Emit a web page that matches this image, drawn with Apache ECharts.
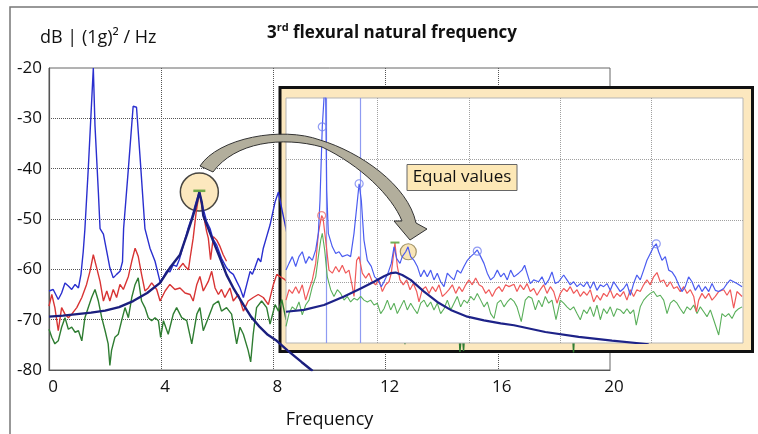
<!DOCTYPE html>
<html>
<head>
<meta charset="utf-8">
<script src="https://cdn.jsdelivr.net/npm/echarts@6/dist/echarts.min.js"></script>
<style>
html, body { margin: 0; padding: 0; background: #fff; }
#chart { width: 758px; height: 434px; }
</style>
</head>
<body>
<div id="chart"></div>
<script>
// ---- main plot: frequency / dB ----
var mainBlue = [[0,-64.3],[0.15,-64],[0.33,-66],[0.45,-64.7],[0.57,-62.7],[0.69,-63.3],[0.81,-64],[0.93,-63],[1.05,-63.7],[1.14,-61],[1.22,-56.5],[1.28,-52],[1.4,-40],[1.58,-20],[1.64,-31.5],[1.76,-44.7],[1.82,-51.9],[1.94,-53],[2.06,-56.5],[2.17,-59.7],[2.29,-61.7],[2.41,-61],[2.53,-60.4],[2.62,-58.5],[2.66,-51.9],[2.83,-40],[3.0,-27.6],[3.12,-27.8],[3.25,-38],[3.42,-51.9],[3.6,-55.8],[3.78,-58.4],[3.96,-62.5],[4.08,-61.5],[4.2,-60.3],[4.31,-60.5],[4.43,-59.1],[4.55,-59.4],[4.65,-58],[4.8,-55],[4.95,-52],[5.1,-49.5],[5.25,-46.5],[5.36,-44.65],[5.5,-48],[5.62,-50.5],[5.74,-51.9],[5.85,-54],[5.98,-55.2],[6.15,-57.8],[6.33,-59.7],[6.45,-60.5],[6.57,-61],[6.7,-62.5],[6.81,-63.7],[6.93,-65.6],[7.05,-63],[7.17,-60.4],[7.25,-61],[7.34,-59.7],[7.46,-57.8],[7.55,-58.5],[7.64,-55.8],[7.76,-53.5],[7.88,-51.2],[8.06,-46.6],[8.18,-44.65],[8.3,-48],[8.45,-52],[8.6,-56]];
var mainRed = [[0,-67.3],[0.1,-65],[0.21,-67.6],[0.33,-72.2],[0.45,-67.6],[0.57,-68.9],[0.69,-69.6],[0.81,-68.9],[0.99,-67.6],[1.17,-65.6],[1.34,-63],[1.46,-60.4],[1.58,-57.1],[1.7,-59.7],[1.82,-62.4],[1.94,-66.3],[2.06,-64.3],[2.17,-66.3],[2.29,-64],[2.41,-65.6],[2.53,-63],[2.65,-64],[2.83,-61.4],[2.95,-58.4],[3.07,-55.8],[3.18,-57.4],[3.3,-61],[3.42,-64.3],[3.54,-63.7],[3.66,-62.7],[3.84,-64],[3.96,-66.3],[4.14,-64.3],[4.31,-63],[4.49,-64],[4.67,-63.7],[4.85,-64.7],[5.03,-65],[5.14,-66.3],[5.27,-63],[5.38,-61.4],[5.5,-64.3],[5.68,-62.4],[5.8,-60.4],[5.92,-63.7],[6.04,-65],[6.15,-64],[6.27,-65.6],[6.45,-63.7],[6.57,-66.3],[6.75,-65],[6.93,-68.3],[7.1,-66.3],[7.28,-65.6],[7.46,-65],[7.64,-65.6],[7.82,-67],[8.0,-63],[8.12,-61],[8.25,-61.5],[8.4,-62],[8.6,-63]];
var mainRedPeak = [[4.6,-60],[4.67,-59.7],[4.78,-58.8],[4.85,-59.4],[4.97,-60.1],[5.03,-57.8],[5.14,-53.8],[5.25,-48.5],[5.36,-44.65],[5.5,-49],[5.62,-52.5],[5.68,-53.8],[5.76,-58.1],[5.86,-53.5],[5.98,-54.2],[6.1,-55.5],[6.21,-57.1],[6.33,-58.4]];
var mainGreen = [[0,-71.9],[0.1,-73.5],[0.21,-74.8],[0.33,-74.2],[0.45,-71.5],[0.57,-69.6],[0.69,-71.9],[0.81,-71.5],[0.93,-72.5],[1.05,-72.2],[1.17,-74.2],[1.28,-69.6],[1.4,-67.6],[1.52,-65.6],[1.64,-64],[1.76,-66.3],[1.88,-69.6],[2.0,-72.2],[2.11,-74.8],[2.17,-79.1],[2.23,-76.1],[2.35,-73.5],[2.47,-72.9],[2.59,-70.2],[2.71,-67.6],[2.83,-69.6],[2.95,-65.6],[3.07,-63],[3.18,-61.7],[3.3,-66.3],[3.42,-67.6],[3.54,-69.6],[3.66,-70.2],[3.78,-69.6],[3.9,-70.2],[3.98,-73.5],[4.08,-70.2],[4.25,-72.9],[4.43,-68.9],[4.55,-67.6],[4.73,-69.6],[4.91,-70.2],[5.09,-74.8],[5.27,-68.9],[5.38,-67.6],[5.5,-72.2],[5.68,-69.6],[5.86,-67],[6.04,-66.3],[6.15,-68.3],[6.33,-67.6],[6.51,-68.9],[6.69,-74.8],[6.81,-71.5],[6.93,-72.9],[7.1,-76.1],[7.19,-78.4],[7.28,-72.9],[7.4,-67.6],[7.58,-66.3],[7.76,-67.6],[7.88,-70.9],[8.06,-67],[8.18,-68.3],[8.3,-66],[8.45,-70],[9.5,-69],[10.5,-70],[11.5,-69],[12.64,-70],[12.69,-74.9],[12.74,-70],[13.8,-69],[14.6,-70],[14.65,-76.4],[14.72,-72],[14.78,-76.2],[14.85,-70],[16.5,-69],[18.64,-70],[18.7,-76.5],[18.76,-70],[20,-69]];
var mainFit = [[0,-69.4],[0.5,-69.2],[1,-68.9],[1.5,-68.6],[2,-68.2],[2.5,-67.5],[3,-66.3],[3.5,-64.7],[3.96,-62.7],[4.31,-59.7],[4.67,-57.1],[4.91,-53.2],[5.14,-49.3],[5.28,-46.5],[5.36,-44.65],[5.45,-46.8],[5.5,-49.3],[5.68,-51.9],[5.86,-54.5],[6.1,-57.8],[6.33,-61.1],[6.6,-64],[6.93,-67],[7.2,-69.4],[7.52,-71.5],[7.8,-73],[8.12,-74.2],[8.5,-76.1],[9.0,-78.4],[9.4,-80.2]];
var mainPeak = [[5.36, -44.65]];
var mainPeakBar = [[5.36, -44.4]];

// ---- zoomed inset (own axes, 5 x 4 cells) ----
var insetBlue = [[0,-68.1],[0.33,-67],[0.69,-65.9],[1.06,-67.5],[1.42,-65.9],[1.78,-65.1],[2.15,-67],[2.52,-65.9],[2.88,-66.5],[3.25,-64.8],[3.54,-62.1],[3.72,-56.7],[3.97,-44.7],[4.32,-36],[4.45,-55],[4.63,-62.1],[5.07,-64.3],[5.44,-65.4],[5.8,-65.1],[6.16,-65.9],[6.71,-65.6],[7.07,-65.9],[7.44,-62.1],[8.0,-54],[8.24,-56.7],[8.53,-63.2],[8.9,-66.5],[9.33,-67.5],[9.7,-69.2],[10.07,-69.7],[10.43,-70.8],[10.72,-70],[11.16,-68.6],[11.52,-67],[11.82,-64.3],[12.11,-66.2],[12.47,-67],[12.72,-65.9],[13.1,-65.1],[13.35,-64.3],[13.64,-65.9],[14,-66.5],[14.37,-67.5],[14.74,-69.2],[15.1,-68.1],[15.46,-69.2],[15.83,-68.1],[16.19,-69.7],[16.55,-68.6],[16.92,-70],[17.29,-70.8],[17.65,-68.6],[18.02,-69.2],[18.38,-69.7],[18.74,-68.1],[19.11,-68.6],[19.47,-67.5],[19.84,-66.5],[20.2,-65.9],[20.57,-65.4],[20.93,-64.8],[21.3,-65.9],[21.66,-67],[22.02,-68.6],[22.39,-69.7],[22.76,-69.2],[23.12,-68.1],[23.49,-69.2],[23.85,-68.6],[24.21,-69.7],[24.58,-68.1],[24.94,-69.2],[25.46,-68.6],[25.82,-68.1],[26.11,-67.3],[26.37,-68.6],[26.73,-70.3],[27.1,-69.7],[27.64,-70],[28.01,-69.2],[28.37,-70.5],[28.74,-69.7],[29.1,-68.4],[29.46,-70.3],[29.83,-70],[30.38,-68.9],[30.74,-69.7],[31.1,-70.5],[31.47,-70],[31.84,-70.8],[32.2,-70.3],[32.57,-70.8],[32.93,-70],[33.29,-71.1],[33.66,-70],[34.02,-71.4],[34.39,-70.5],[34.75,-70.8],[35.12,-70.3],[35.48,-71.4],[35.85,-70],[36.21,-70.8],[36.57,-71.6],[36.94,-71.1],[37.3,-70.3],[37.67,-72.2],[38.03,-70.3],[38.39,-68.9],[38.76,-69.7],[39.13,-68.1],[39.49,-66.5],[39.86,-65.4],[40.22,-64.3],[40.51,-63.8],[40.77,-65.1],[41.14,-66.5],[41.5,-65.9],[41.87,-68.1],[42.23,-68.4],[42.59,-69.2],[42.96,-70.5],[43.32,-71.6],[43.69,-70.8],[44.05,-69.2],[44.42,-70],[44.78,-71.4],[45.15,-70.5],[45.51,-71.6],[45.88,-70.8],[46.25,-71.6],[46.61,-70.3],[46.97,-71.4],[47.34,-71.6],[47.89,-71.1],[48.25,-70.3],[48.61,-69.7],[48.98,-70],[49.34,-70.3],[49.9,-70.8]];
var insetRed = [[0,-73],[0.33,-71.3],[0.69,-71.9],[1.06,-70.8],[1.42,-71.9],[1.78,-70.5],[2.15,-73],[2.52,-71.3],[2.88,-69.7],[3.25,-67],[3.54,-62.1],[3.9,-59.2],[4.05,-59.6],[4.34,-63.2],[4.7,-68.1],[5.07,-68.6],[5.44,-67.5],[5.8,-68.4],[6.16,-67.3],[6.53,-68.6],[6.89,-68.1],[7.26,-70.8],[7.44,-72.4],[7.73,-66.5],[7.99,-65.9],[8.35,-68.6],[8.72,-69.4],[9.08,-68.6],[9.44,-70],[9.81,-70.5],[10.17,-69.7],[10.54,-71.6],[10.9,-70.5],[11.27,-70],[11.52,-68.6],[11.74,-65.9],[11.92,-63.7],[12.18,-67.5],[12.47,-69.7],[12.83,-70.5],[13.2,-69.7],[13.57,-71.3],[13.93,-70.3],[14.3,-71.6],[14.55,-73.3],[14.91,-71.3],[15.28,-70.8],[15.65,-71.9],[16.01,-70.8],[16.38,-71.6],[16.74,-70.5],[17.1,-72.4],[17.47,-71.9],[17.83,-71.3],[18.2,-70.5],[18.57,-71.9],[18.93,-70.8],[19.29,-71.6],[19.66,-70.5],[20.02,-69.7],[20.38,-70.5],[20.75,-69.4],[21.12,-70.5],[21.48,-70.8],[21.85,-71.9],[22.21,-71.3],[22.57,-72.4],[22.94,-71.3],[23.3,-70.8],[23.66,-71.6],[24.03,-70.5],[24.4,-70.8],[24.94,-70.4],[25.27,-71.6],[25.63,-70.5],[26,-71.3],[26.37,-70.3],[26.73,-71.6],[27.1,-71.1],[27.46,-72.2],[27.82,-71.3],[28.19,-70.5],[28.56,-71.9],[28.92,-70.8],[29.29,-71.6],[29.65,-73.5],[30.01,-71.9],[30.38,-71.1],[30.74,-71.6],[31.1,-70.8],[31.47,-71.9],[31.84,-71.3],[32.2,-72.4],[32.57,-71.6],[32.93,-72.2],[33.29,-71.3],[33.66,-73.3],[34.02,-72.2],[34.39,-73],[34.75,-71.9],[35.12,-72.4],[35.48,-71.3],[35.85,-72.7],[36.21,-71.9],[36.57,-72.4],[36.94,-71.6],[37.3,-73],[37.67,-71.3],[38.03,-72.4],[38.39,-71.3],[38.76,-71.6],[39.13,-70.5],[39.49,-69.7],[39.86,-70.5],[40.22,-69.2],[40.59,-68.5],[40.95,-70],[41.32,-69.7],[41.69,-70.8],[42.05,-70],[42.42,-71.1],[42.78,-70.8],[43.14,-71.6],[43.51,-70.8],[43.88,-71.9],[44.24,-71.3],[44.61,-72.4],[44.9,-74.9],[45.15,-73],[45.51,-71.9],[45.88,-72.7],[46.25,-71.9],[46.61,-73],[46.97,-72.4],[47.34,-71.6],[47.89,-71.3],[48.25,-72.2],[48.61,-71.3],[48.98,-74.3],[49.34,-71.6],[49.9,-72.4]];
var insetGreen = [[0,-77.3],[0.33,-75.2],[0.69,-74.1],[1.06,-74.6],[1.42,-73.3],[1.78,-75.4],[2.15,-73.8],[2.52,-73],[2.88,-70.8],[3.25,-69.2],[3.54,-65.9],[3.8,-63.2],[3.97,-62.1],[4.23,-64.8],[4.52,-69.2],[4.89,-71.3],[5.25,-72.4],[5.62,-71.3],[5.98,-71.9],[6.35,-73],[6.71,-72.4],[7.07,-73.3],[7.44,-72.7],[7.8,-73],[8.17,-72.4],[8.53,-73],[8.9,-73.3],[9.26,-73],[9.63,-73.8],[9.99,-73.5],[10.36,-75.2],[10.72,-74.4],[11.09,-73],[11.45,-74.6],[11.82,-73.5],[12.18,-75.2],[12.55,-74.1],[12.91,-73],[13.27,-74.6],[13.64,-73.5],[14,-74.4],[14.37,-75.2],[14.74,-73.5],[15.1,-73],[15.46,-74.1],[15.83,-73.3],[16.19,-74.6],[16.55,-73.5],[16.92,-75.2],[17.29,-74.4],[17.65,-73],[18.02,-74.6],[18.38,-73.5],[18.74,-72.4],[19.11,-74.1],[19.47,-73],[19.84,-73.5],[20.2,-72.4],[20.57,-73],[20.93,-71.9],[21.3,-73],[21.66,-74.1],[22.02,-73.3],[22.39,-75.2],[22.76,-76],[23.12,-73.5],[23.49,-73],[23.85,-74.1],[24.21,-73.3],[24.58,-72.7],[24.94,-73.2],[25.27,-74.1],[25.74,-76.5],[26.18,-73],[26.55,-72.4],[26.91,-72.7],[27.28,-74.6],[27.64,-73],[28.01,-74.1],[28.37,-72.4],[28.74,-73.5],[29.1,-73],[29.54,-76.2],[30.01,-73],[30.38,-73.5],[30.74,-74.1],[31.1,-74.6],[31.47,-74.1],[31.84,-75.2],[32.2,-76.2],[32.57,-74.6],[32.93,-75.2],[33.29,-74.1],[33.66,-75.7],[34.02,-73.8],[34.39,-76.2],[34.75,-74.4],[35.12,-75.2],[35.48,-74.1],[35.85,-75.7],[36.21,-74.4],[36.57,-74.6],[36.94,-75.2],[37.3,-74.4],[37.67,-75.2],[38.03,-74.6],[38.32,-77.1],[38.76,-74.1],[39.13,-73],[39.49,-72.4],[39.86,-71.9],[40.22,-71.6],[40.59,-72.4],[40.95,-72.2],[41.32,-73],[41.69,-75.2],[42.05,-73.5],[42.42,-73],[42.78,-73.5],[43.14,-74.4],[43.51,-75.2],[43.88,-74.1],[44.24,-74.6],[44.61,-73.8],[44.97,-75.2],[45.33,-74.1],[45.7,-74.9],[46.06,-75.7],[46.43,-74.6],[46.79,-76.2],[47.34,-78.7],[47.7,-75.2],[48.07,-75.7],[48.43,-75.2],[48.8,-76],[49.16,-74.9],[49.53,-74.4],[49.9,-74.1]];
var insetFit = [[0,-74.9],[1.97,-74.6],[4.16,-73.8],[6.35,-72.4],[8.17,-71.1],[9.63,-70],[10.72,-69.1],[11.45,-68.6],[12,-68.5],[12.72,-68.9],[13.64,-69.7],[15.1,-71.6],[16.55,-73.3],[18.02,-74.6],[19.84,-75.7],[21.66,-76.3],[23.49,-76.8],[24.94,-77.1],[28.37,-78.2],[32.02,-79],[35.67,-79.6],[39.68,-80.2]];
var insetBlueMarks = [[3.97,-44.7],[8.0,-54],[20.93,-65],[40.51,-63.8]];
var insetRedMarks = [[3.9,-59.2]];
var insetCursors = [4.38, 8.17];
var insetEqual = [[13.38, -65.1]];
var insetPeakBar = [[11.92, -63.6]];

var FONT = '"Open Sans", Lato, sans-serif';

// curved call-out arrow, registered as a custom graphic shape
var ArrowShape = echarts.graphic.extendPath(
  'M200 166 C218 138 282 126 320 140 C360 152 408 185 416 223 L427 229 L410 240 L394 221 L402 221 C392 196 360 165 322 147 C282 136 235 142 213 172 Z',
  {}
);
echarts.graphic.registerShape('calloutArrow', ArrowShape);

function lineSeries(data, color, width, idx, z) {
  return {
    type: 'line', xAxisIndex: idx, yAxisIndex: idx, data: data,
    symbol: 'none', z: z, animation: false,
    lineStyle: { color: color, width: width },
    itemStyle: { color: color },
    emphasis: { disabled: true }
  };
}

function markSeries(data, idx, size, symbol, style, z) {
  return {
    type: 'scatter', xAxisIndex: idx, yAxisIndex: idx, data: data,
    symbol: symbol, symbolSize: size, z: z, animation: false,
    itemStyle: style, emphasis: { disabled: true }, silent: true
  };
}

var insetBlueSeries = lineSeries(insetBlue, '#4b5cf0', 1.2, 1, 7);
insetBlueSeries.markLine = {
  silent: true, symbol: 'none', animation: false,
  label: { show: false },
  lineStyle: { color: '#8e9bf2', width: 1.2, type: 'solid' },
  data: insetCursors.map(function (x) { return { xAxis: x }; })
};

var option = {
  animation: false,
  grid: [
    { left: 49, top: 68, width: 561, height: 305, show: true, z: 0,
      borderColor: '#666', borderWidth: 1, backgroundColor: 'transparent' },
    { left: 286, top: 98, width: 457, height: 245, show: true, z: 4,
      borderColor: '#b5b5b5', borderWidth: 1, backgroundColor: '#fff' }
  ],
  xAxis: [
    { gridIndex: 0, type: 'value', min: 0, max: 20, interval: 4, z: 0,
      axisLine: { show: true, onZero: false, lineStyle: { color: '#555', width: 1.2 } },
      axisTick: { show: false },
      axisLabel: { fontSize: 17, color: '#111', fontFamily: FONT, margin: 9, padding: [0, 0, 0, 8] },
      splitLine: { show: true, showMinLine: false, showMaxLine: false, lineStyle: { color: '#555', type: 'dotted' } },
      name: 'Frequency', nameLocation: 'middle', nameGap: 41,
      nameTextStyle: { fontSize: 18, color: '#111', fontFamily: FONT } },
    { gridIndex: 1, type: 'value', min: 0, max: 50, interval: 10, z: 5,
      axisLine: { show: false }, axisTick: { show: false }, axisLabel: { show: false },
      splitLine: { show: true, showMinLine: false, showMaxLine: false, lineStyle: { color: '#a0a0a0', type: 'dotted' } } }
  ],
  yAxis: [
    { gridIndex: 0, type: 'value', min: -80, max: -20, interval: 10, z: 0,
      axisLine: { show: true, onZero: false, lineStyle: { color: '#555', width: 1.2 } },
      axisTick: { show: false },
      axisLabel: { fontSize: 17, color: '#111', fontFamily: FONT, margin: 7 },
      splitLine: { show: true, showMinLine: false, showMaxLine: false, lineStyle: { color: '#555', type: 'dotted' } } },
    { gridIndex: 1, type: 'value', min: -80, max: -40, interval: 10, z: 5,
      axisLine: { show: false }, axisTick: { show: false }, axisLabel: { show: false },
      splitLine: { show: true, showMinLine: false, showMaxLine: false, lineStyle: { color: '#a0a0a0', type: 'dotted' } } }
  ],
  series: [
    markSeries(mainPeak, 0, 38, 'circle', { color: '#fbe2ae', borderColor: '#1a1a1a', borderWidth: 1.5 }, 2),
    lineSeries(mainGreen, '#2f7d32', 1.4, 0, 3),
    lineSeries(mainRed, '#d83434', 1.4, 0, 3),
    lineSeries(mainRedPeak, '#d83434', 1.4, 0, 3),
    lineSeries(mainBlue, '#2a2fcf', 1.4, 0, 3),
    lineSeries(mainFit, '#1b1f7e', 2.4, 0, 3),
    markSeries(mainPeakBar, 0, [12, 2.5], 'rect', { color: '#4f9a2a' }, 4),

    markSeries(insetEqual, 1, 16, 'circle', { color: '#f6dea6', borderColor: '#8a7a4c', borderWidth: 1.2 }, 6),
    lineSeries(insetGreen, '#5aaf5a', 1.1, 1, 7),
    lineSeries(insetRed, '#f05a5a', 1.2, 1, 7),
    insetBlueSeries,
    lineSeries(insetFit, '#1d2288', 2.2, 1, 7),
    markSeries(insetBlueMarks, 1, 8, 'circle', { color: 'rgba(0,0,0,0)', borderColor: '#7482f0', borderWidth: 1.2 }, 8),
    markSeries(insetRedMarks, 1, 8, 'circle', { color: 'rgba(0,0,0,0)', borderColor: '#f07070', borderWidth: 1.2 }, 8),
    markSeries(insetPeakBar, 1, [9, 2], 'rect', { color: '#4f9a2a' }, 8)
  ],
  graphic: [
    // page frame
    { type: 'polyline', z: 0, silent: true,
      shape: { points: [[10, 434], [10, 7], [758, 7]] },
      style: { stroke: '#777', lineWidth: 1.5, fill: null } },
    // inset frame
    { type: 'rect', z: 1, silent: true,
      shape: { x: 280, y: 87.5, width: 472.5, height: 264 },
      style: { fill: '#fce8bf', stroke: '#111', lineWidth: 3 } },
    // title
    { type: 'text', z: 10, x: 267, y: 33, silent: true,
      style: {
        text: '{a|3}{b|rd}{a| flexural natural frequency}',
        verticalAlign: 'middle',
        rich: {
          a: { fontSize: 17, fontWeight: 'bold', fontFamily: FONT, fill: '#111', lineHeight: 22 },
          b: { fontSize: 11, fontWeight: 'bold', fontFamily: FONT, fill: '#111', lineHeight: 22, verticalAlign: 'top' }
        }
      } },
    // y axis name
    { type: 'text', z: 10, x: 40, y: 38, silent: true,
      style: { text: 'dB | (1g)² / Hz', fontSize: 18, fontFamily: FONT, fill: '#111', verticalAlign: 'middle' } },
    // curved arrow
    { type: 'calloutArrow', z: 10, silent: true,
      style: { fill: '#b2ae9c', stroke: '#333', lineWidth: 1 } },
    // label
    { type: 'rect', z: 10, silent: true,
      shape: { x: 407, y: 164.5, width: 110, height: 26 },
      style: { fill: '#fde8b6', stroke: '#666', lineWidth: 1 } },
    { type: 'text', z: 11, x: 462, y: 177.5, silent: true,
      style: { text: 'Equal values', fontSize: 17, fontFamily: FONT, fill: '#111', align: 'center', verticalAlign: 'middle' } }
  ]
};

var chart = echarts.init(document.getElementById('chart'));
chart.setOption(option);
</script>
</body>
</html>
